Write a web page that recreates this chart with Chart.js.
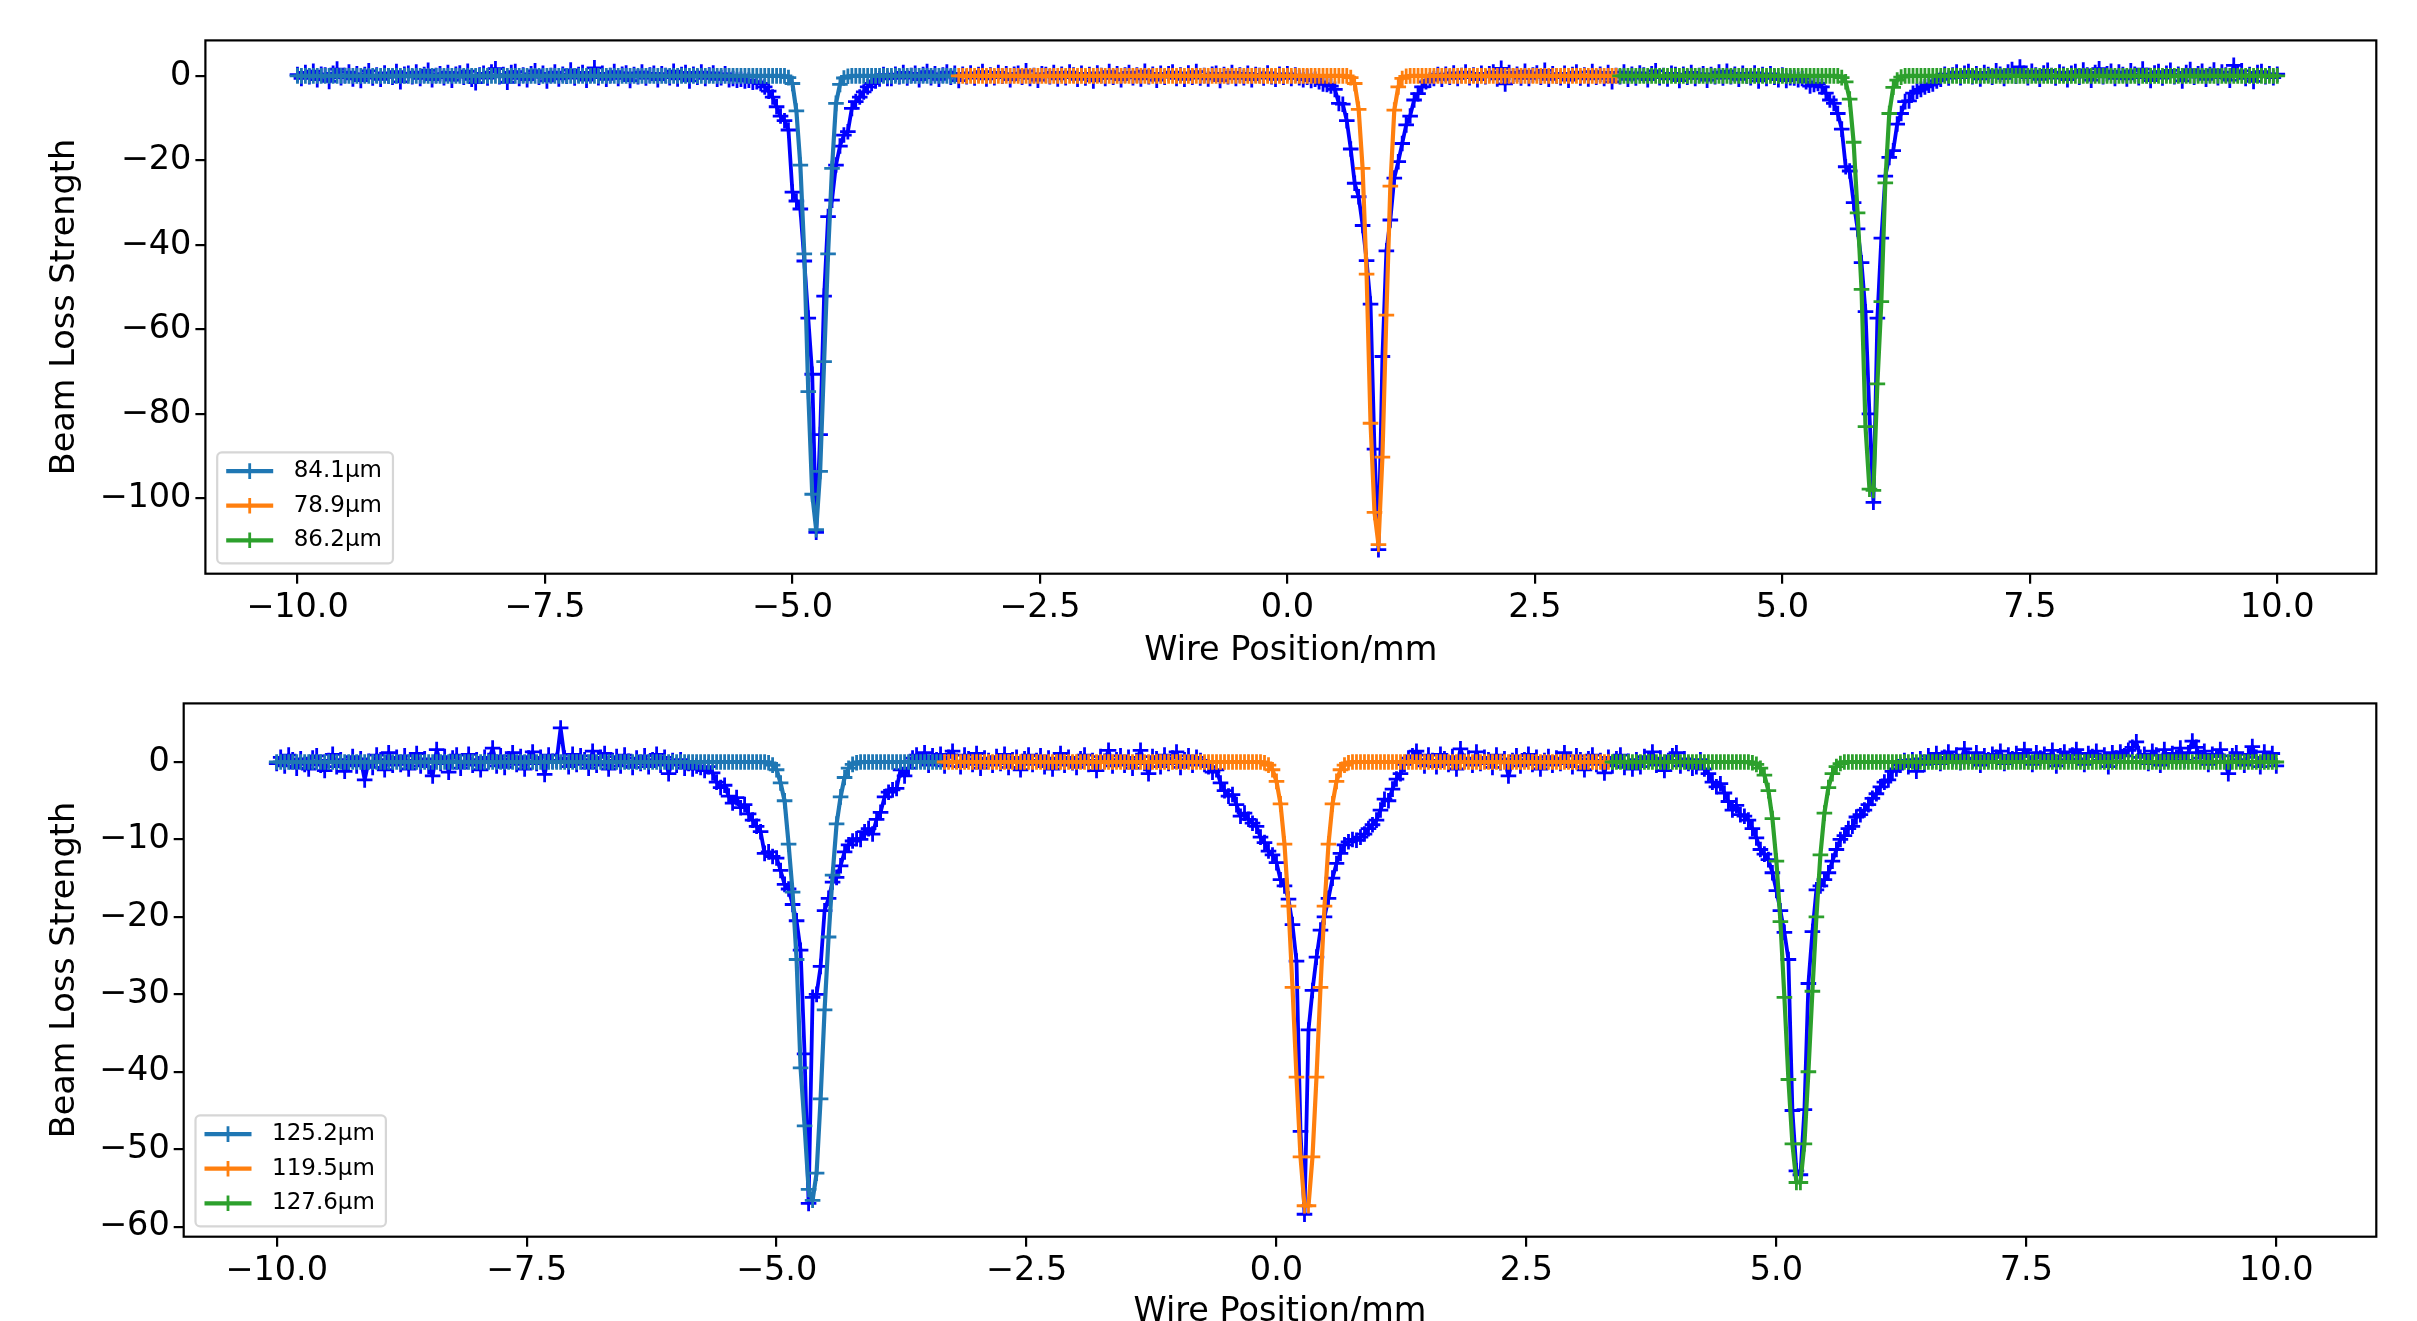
<!DOCTYPE html>
<html>
<head>
<meta charset="utf-8">
<title>Wire scan beam loss</title>
<script src="https://cdn.jsdelivr.net/npm/chart.js@4.4.1/dist/chart.umd.min.js"></script>
<style>
  html, body { margin: 0; padding: 0; background: #fff; overflow: hidden; }
  body { width: 2417px; height: 1321px; position: relative; }
  canvas { position: absolute; left: 0; }
  #scanTop { top: 0; }
  #scanBottom { top: 660px; }
</style>
</head>
<body>
<canvas id="scanTop" width="2417" height="700"></canvas>
<canvas id="scanBottom" width="2417" height="700"></canvas>
<script>
// wire positions of the scan (mm), shared by both scans and all fits
const wirePos = [
  -10.00,-9.96,-9.92,-9.88,-9.84,-9.80,-9.76,-9.72,-9.68,-9.64,
  -9.60,-9.56,-9.52,-9.48,-9.44,-9.40,-9.36,-9.32,-9.28,-9.24,
  -9.20,-9.16,-9.12,-9.08,-9.04,-9.00,-8.96,-8.92,-8.88,-8.84,
  -8.80,-8.76,-8.72,-8.68,-8.64,-8.60,-8.56,-8.52,-8.48,-8.44,
  -8.40,-8.36,-8.32,-8.28,-8.24,-8.20,-8.16,-8.12,-8.08,-8.04,
  -8.00,-7.96,-7.92,-7.88,-7.84,-7.80,-7.76,-7.72,-7.68,-7.64,
  -7.60,-7.56,-7.52,-7.48,-7.44,-7.40,-7.36,-7.32,-7.28,-7.24,
  -7.20,-7.16,-7.12,-7.08,-7.04,-7.00,-6.96,-6.92,-6.88,-6.84,
  -6.80,-6.76,-6.72,-6.68,-6.64,-6.60,-6.56,-6.52,-6.48,-6.44,
  -6.40,-6.36,-6.32,-6.28,-6.24,-6.20,-6.16,-6.12,-6.08,-6.04,
  -6.00,-5.96,-5.92,-5.88,-5.84,-5.80,-5.76,-5.72,-5.68,-5.64,
  -5.60,-5.56,-5.52,-5.48,-5.44,-5.40,-5.36,-5.32,-5.28,-5.24,
  -5.20,-5.16,-5.12,-5.08,-5.04,-5.00,-4.96,-4.92,-4.88,-4.84,
  -4.80,-4.76,-4.72,-4.68,-4.64,-4.60,-4.56,-4.52,-4.48,-4.44,
  -4.40,-4.36,-4.32,-4.28,-4.24,-4.20,-4.16,-4.12,-4.08,-4.04,
  -4.00,-3.96,-3.92,-3.88,-3.84,-3.80,-3.76,-3.72,-3.68,-3.64,
  -3.60,-3.56,-3.52,-3.48,-3.44,-3.40,-3.36,-3.32,-3.28,-3.24,
  -3.20,-3.16,-3.12,-3.08,-3.04,-3.00,-2.96,-2.92,-2.88,-2.84,
  -2.80,-2.76,-2.72,-2.68,-2.64,-2.60,-2.56,-2.52,-2.48,-2.44,
  -2.40,-2.36,-2.32,-2.28,-2.24,-2.20,-2.16,-2.12,-2.08,-2.04,
  -2.00,-1.96,-1.92,-1.88,-1.84,-1.80,-1.76,-1.72,-1.68,-1.64,
  -1.60,-1.56,-1.52,-1.48,-1.44,-1.40,-1.36,-1.32,-1.28,-1.24,
  -1.20,-1.16,-1.12,-1.08,-1.04,-1.00,-0.96,-0.92,-0.88,-0.84,
  -0.80,-0.76,-0.72,-0.68,-0.64,-0.60,-0.56,-0.52,-0.48,-0.44,
  -0.40,-0.36,-0.32,-0.28,-0.24,-0.20,-0.16,-0.12,-0.08,-0.04,
  0.00,0.04,0.08,0.12,0.16,0.20,0.24,0.28,0.32,0.36,
  0.40,0.44,0.48,0.52,0.56,0.60,0.64,0.68,0.72,0.76,
  0.80,0.84,0.88,0.92,0.96,1.00,1.04,1.08,1.12,1.16,
  1.20,1.24,1.28,1.32,1.36,1.40,1.44,1.48,1.52,1.56,
  1.60,1.64,1.68,1.72,1.76,1.80,1.84,1.88,1.92,1.96,
  2.00,2.04,2.08,2.12,2.16,2.20,2.24,2.28,2.32,2.36,
  2.40,2.44,2.48,2.52,2.56,2.60,2.64,2.68,2.72,2.76,
  2.80,2.84,2.88,2.92,2.96,3.00,3.04,3.08,3.12,3.16,
  3.20,3.24,3.28,3.32,3.36,3.40,3.44,3.48,3.52,3.56,
  3.60,3.64,3.68,3.72,3.76,3.80,3.84,3.88,3.92,3.96,
  4.00,4.04,4.08,4.12,4.16,4.20,4.24,4.28,4.32,4.36,
  4.40,4.44,4.48,4.52,4.56,4.60,4.64,4.68,4.72,4.76,
  4.80,4.84,4.88,4.92,4.96,5.00,5.04,5.08,5.12,5.16,
  5.20,5.24,5.28,5.32,5.36,5.40,5.44,5.48,5.52,5.56,
  5.60,5.64,5.68,5.72,5.76,5.80,5.84,5.88,5.92,5.96,
  6.00,6.04,6.08,6.12,6.16,6.20,6.24,6.28,6.32,6.36,
  6.40,6.44,6.48,6.52,6.56,6.60,6.64,6.68,6.72,6.76,
  6.80,6.84,6.88,6.92,6.96,7.00,7.04,7.08,7.12,7.16,
  7.20,7.24,7.28,7.32,7.36,7.40,7.44,7.48,7.52,7.56,
  7.60,7.64,7.68,7.72,7.76,7.80,7.84,7.88,7.92,7.96,
  8.00,8.04,8.08,8.12,8.16,8.20,8.24,8.28,8.32,8.36,
  8.40,8.44,8.48,8.52,8.56,8.60,8.64,8.68,8.72,8.76,
  8.80,8.84,8.88,8.92,8.96,9.00,9.04,9.08,9.12,9.16,
  9.20,9.24,9.28,9.32,9.36,9.40,9.44,9.48,9.52,9.56,
  9.60,9.64,9.68,9.72,9.76,9.80,9.84,9.88,9.92,9.96,
  10.00
];

// upper scan: measured beam loss
const topMeasured = [
  0.3,-0.6,0.8,-0.2,1.1,-0.9,0.4,0.2,-1.3,0.6,
  1.6,-0.4,0.1,0.9,-0.7,0.5,-1.1,0.3,1.2,-0.5,
  0.2,-0.8,0.7,0.0,-0.3,1.0,-1.4,0.4,0.6,-0.2,
  0.9,-0.6,0.3,1.3,-0.9,0.1,0.5,-0.4,0.8,-1.0,
  0.4,0.7,-0.3,1.1,-0.8,-1.6,0.2,0.6,-0.5,0.9,
  1.7,-0.2,0.3,-1.5,0.8,1.0,-0.6,0.2,-0.9,0.5,
  1.2,-0.3,0.6,-1.2,0.1,0.9,-0.7,0.4,-0.1,1.4,
  -0.5,0.3,0.8,-1.0,0.2,1.9,-0.4,0.6,-0.8,0.1,
  1.0,-0.6,0.4,0.7,-1.1,0.3,-0.2,0.9,-0.5,0.2,
  0.6,-0.9,0.5,0.1,-0.4,1.1,-0.7,0.3,0.8,-1.2,
  0.4,-0.3,0.9,-0.6,0.2,0.7,-0.8,-0.4,0.5,-0.9,
  -0.6,-1.0,-0.8,-1.2,-1.0,-1.5,-1.4,-1.8,-2.6,-3.6,
  -5.0,-7.3,-9.5,-10.6,-12.8,-27.5,-29.6,-31.5,-43.8,-57.3,
  -70.6,-108.0,-84.9,-52.1,-33.3,-29.4,-21.1,-16.6,-14.0,-13.2,
  -7.7,-6.1,-5.0,-3.8,-2.6,-1.8,-1.2,-0.7,0.3,-0.6,
  -0.6,0.4,-0.2,0.8,-0.5,0.1,0.6,-0.9,0.3,1.0,
  -0.4,0.5,-0.8,0.2,0.9,-0.3,0.6,-1.1,0.4,-0.2,
  0.7,-0.5,0.3,1.0,-0.7,0.2,-0.4,0.8,-0.1,0.5,
  -0.9,0.4,0.6,-0.3,1.2,-0.6,0.1,-1.0,0.5,0.3,
  -0.2,0.8,-0.7,0.4,-0.4,0.9,0.2,-0.8,0.6,-0.5,
  0.3,-1.2,0.7,0.1,-0.6,1.0,-0.3,0.5,-0.9,0.2,
  0.8,-0.4,0.2,-0.7,1.1,-0.2,0.4,-1.0,0.6,-0.3,
  0.5,0.9,-0.6,0.2,-0.8,0.7,-0.3,1.0,-0.5,0.1,
  -0.7,0.4,0.6,-1.1,0.3,-0.2,0.8,-0.6,0.2,-0.4,
  0.6,-0.9,0.3,0.1,-0.5,0.7,-0.2,-0.8,0.4,-0.3,
  0.5,-0.6,0.2,-0.4,-0.9,-0.3,-1.1,-0.8,-1.4,-1.9,
  -2.0,-2.4,-3.2,-6.5,-6.7,-10.6,-17.3,-25.4,-28.6,-35.4,
  -43.7,-54.0,-88.3,-112.1,-66.4,-41.4,-34.1,-24.2,-20.3,-16.0,
  -11.6,-9.5,-5.7,-4.2,-2.6,-1.4,-1.0,-0.6,0.3,-0.8,
  0.4,-0.3,0.7,-0.6,0.1,0.9,-0.4,0.2,-0.9,0.6,
  -0.2,0.5,0.9,-0.7,1.8,-1.9,0.8,-0.1,0.4,-0.5,
  1.1,-0.6,0.2,0.7,-0.3,1.3,-0.8,0.5,0.0,-0.4,
  0.6,-1.0,0.3,0.9,-0.5,0.2,-0.7,1.0,-0.3,0.4,
  -0.6,0.8,-1.4,0.1,-0.2,0.9,-0.8,0.4,-0.5,0.7,
  0.2,-0.9,0.5,1.2,-0.4,0.1,-0.7,0.6,0.3,-1.1,
  0.4,-0.3,0.8,-0.6,0.1,0.5,-1.0,0.3,-0.2,0.9,
  -0.5,1.1,-0.2,0.4,-0.8,0.6,0.0,-0.4,0.7,-1.2,
  0.3,-0.6,0.5,-0.3,-0.9,0.2,-1.1,-0.4,-0.5,-0.9,
  -0.6,-1.4,-2.4,-2.0,-1.8,-2.6,-4.1,-5.7,-6.5,-8.9,
  -12.6,-21.5,-22.5,-30.0,-36.2,-44.2,-55.8,-80.0,-100.9,-57.3,
  -38.4,-23.7,-19.3,-17.7,-11.4,-8.9,-6.1,-5.9,-4.1,-3.6,
  -3.2,-2.6,-2.2,-1.9,-1.2,-0.8,0.4,-0.5,0.2,0.9,
  -0.4,0.6,1.0,-0.2,0.5,-0.7,0.8,0.3,-0.3,1.2,
  0.4,-0.6,0.9,1.5,-0.1,2.1,0.6,-0.4,1.1,0.2,
  -0.8,0.7,1.3,0.1,-0.5,0.9,0.4,-0.9,0.6,1.0,
  -0.3,1.4,0.2,-1.0,0.8,1.7,-0.2,0.5,1.1,-0.6,
  0.9,0.3,-0.7,1.2,0.4,-0.4,1.6,0.1,-1.1,0.7,
  1.0,-0.5,0.6,1.3,-0.2,0.4,-1.2,0.8,1.5,-0.3,
  0.5,1.1,-0.8,0.3,1.4,-0.4,0.9,0.2,-1.0,2.5,
  0.6,1.2,-0.6,0.3,-1.3,0.8,1.0,-0.2,0.5,-0.4,
  0.4
];

// upper scan: gaussian fits, one per wire (positions 0-166, 167-333, 334-500)
const topFitLeft = [
  0,0,0,0,0,0,0,0,0,0, 0,0,0,0,0,0,0,0,0,0,
  0,0,0,0,0,0,0,0,0,0, 0,0,0,0,0,0,0,0,0,0,
  0,0,0,0,0,0,0,0,0,0, 0,0,0,0,0,0,0,0,0,0,
  0,0,0,0,0,0,0,0,0,0, 0,0,0,0,0,0,0,0,0,0,
  0,0,0,0,0,0,0,0,0,0, 0,0,0,0,0,0,0,0,0,0,
  0,0,0,0,0,0,0,0,0,0, 0,0,0,0,0,0,0,0,0,0,
  0,0,0,0,-0.4,-1.8,-8.3,-21.1,-42.1,-74.7,
  -99.0,-107.4,-93.6,-67.6,-42.1,-21.9,-6.5,-2.0,-0.5,-0.1,
  0,0,0,0,0,0,0,0,0,0, 0,0,0,0,0,0,0,0,0,0,
  0,0,0,0,0,0,0
];
const topFitMid = [
  0,0,0,
  0,0,0,0,0,0,0,0,0,0, 0,0,0,0,0,0,0,0,0,0,
  0,0,0,0,0,0,0,0,0,0, 0,0,0,0,0,0,0,0,0,0,
  0,0,0,0,0,0,0,0,0,0, 0,0,0,0,0,0,0,0,0,0,
  0,0,0,0,0,0,0,0,0,0, 0,0,0,0,0,0,0,0,0,0,
  0,0,0,0,0,0,0,0,0,0,
  0,0,0,0,0,0,-0.4,-1.8,-7.9,-21.9,
  -46.9,-82.2,-103.3,-110.9,-90.2,-56.6,-26.1,-8.1,-2.6,-0.6,
  -0.1,0,0,0,0,0,0,0,0,0,
  0,0,0,0,0,0,0,0,0,0, 0,0,0,0,0,0,0,0,0,0,
  0,0,0,0,0,0,0,0,0,0, 0,0,0,0,0,0,0,0,0,0,
  0,0,0,0
];
const topFitRight = [
  0,0,0,0,0,0,
  0,0,0,0,0,0,0,0,0,0, 0,0,0,0,0,0,0,0,0,0,
  0,0,0,0,0,0,0,0,0,0, 0,0,0,0,0,0,0,0,0,0,
  0,0,0,0,0,0,0,0,0,0,
  -0.4,-1.4,-5.5,-15.7,-32.4,-50.5,-83.0,-97.8,-98.1,-72.9,
  -53.4,-25.3,-8.9,-2.7,-1.0,-0.3,0,0,0,0,
  0,0,0,0,0,0,0,0,0,0, 0,0,0,0,0,0,0,0,0,0,
  0,0,0,0,0,0,0,0,0,0, 0,0,0,0,0,0,0,0,0,0,
  0,0,0,0,0,0,0,0,0,0, 0,0,0,0,0,0,0,0,0,0,
  0,0,0,0,0,0,0,0,0,0, 0,0,0,0,0,0,0,0,0,0,
  0,0,0,0,0,0,0,0,0,0,
  0
];

// lower scan: measured beam loss
const bottomMeasured = [
  -0.2,0.6,-0.5,0.9,0.3,-0.8,0.4,-0.3,-0.9,0.5,
  0.8,-0.4,-1.1,0.2,1.0,-0.6,0.3,-1.2,-0.2,0.7,
  -0.5,0.4,-2.3,0.1,-0.7,0.9,0.3,-1.0,1.2,-0.4,
  0.6,-0.3,0.8,-0.9,0.2,1.1,-0.5,0.4,-0.6,-1.8,
  1.6,-0.2,0.7,-1.3,0.5,0.9,-0.8,0.1,1.0,-0.4,
  0.3,-1.0,0.6,0.2,1.8,-0.5,0.8,-0.7,0.4,1.2,
  -0.3,0.7,-0.9,0.5,1.3,-0.2,0.6,-1.6,0.9,0.1,
  0.2,4.4,0.5,-0.6,1.0,-0.3,0.8,0.3,-0.8,1.4,
  -0.4,0.6,1.1,-0.9,0.2,0.7,-0.5,0.9,0.1,-0.7,
  0.5,-0.2,0.8,-0.6,0.3,1.0,-0.4,0.6,-1.5,0.2,
  -0.4,0.3,-0.8,-0.2,-0.9,-0.5,-0.7,-1.1,-0.6,-1.4,
  -2.6,-3.3,-3.0,-4.4,-5.3,-4.6,-5.9,-5.5,-6.7,-7.5,
  -8.3,-9.0,-11.8,-11.6,-12.2,-12.4,-14.0,-15.8,-16.4,-18.4,
  -20.5,-24.3,-37.7,-57.0,-30.4,-30.0,-26.4,-19.2,-17.6,-15.5,
  -14.9,-13.4,-11.6,-10.7,-10.2,-9.9,-10.0,-9.0,-8.6,-9.3,
  -7.4,-6.5,-4.5,-3.9,-3.6,-3.4,-1.0,-1.8,-0.8,0.5,
  0.9,0.2,1.2,-0.4,0.8,0.3,1.0,-0.5,0.6,1.4,
  0.1,-0.6,0.9,0.4,-0.3,1.1,-0.8,0.5,0.2,-0.4,
  0.7,-0.2,1.0,-0.7,0.3,0.6,-1.0,0.4,0.9,-0.3,
  0.2,0.8,-0.6,0.5,-0.9,0.3,1.1,-0.4,0.6,-0.1,
  -0.7,0.4,0.9,-0.3,0.2,-1.1,0.7,0.1,1.5,-0.5,
  0.3,0.8,-0.4,0.6,-0.8,0.2,1.5,-0.2,-1.5,0.7,
  0.4,-0.6,0.9,-0.2,0.5,1.3,-0.7,0.3,0.8,-0.4,
  0.6,0.2,-0.3,-0.6,-1.3,-1.0,-2.7,-3.7,-4.4,-4.2,
  -5.5,-7.0,-6.6,-7.4,-7.9,-8.3,-9.7,-10.4,-11.5,-12.0,
  -13.0,-15.2,-16.0,-17.7,-21.0,-25.7,-47.7,-58.4,-34.6,-29.5,
  -25.2,-21.7,-20.0,-17.6,-15.0,-13.1,-11.8,-10.7,-10.3,-10.0,
  -10.1,-9.7,-9.3,-8.6,-8.1,-7.5,-6.2,-4.8,-5.0,-3.5,
  -2.2,-1.5,-0.3,0.5,0.8,1.4,0.3,-0.5,0.9,0.2,
  -0.6,1.0,0.4,-0.3,0.7,-0.9,1.7,0.1,0.5,-0.4,
  1.3,-0.2,0.6,0.3,-0.7,0.9,-0.1,0.4,-1.8,0.2,
  0.8,-0.5,0.3,1.0,-0.3,0.6,-0.9,0.2,0.7,-0.4,
  0.5,-0.2,1.2,0.1,-0.6,0.8,0.3,-1.0,0.4,0.9,
  -0.3,0.2,-1.4,0.6,-0.5,0.4,0.9,-0.7,0.1,-0.9,
  0.3,-0.6,0.7,0.2,1.3,-0.4,0.5,-1.1,0.2,0.8,
  1.2,-0.5,0.4,-0.2,-0.8,-0.6,0.3,-0.9,-1.5,-2.6,
  -3.2,-2.8,-4.0,-5.1,-6.2,-5.6,-6.8,-7.0,-7.5,-8.6,
  -9.8,-11.3,-11.9,-12.6,-14.3,-16.6,-19.2,-22.0,-25.5,-45.0,
  -52.8,-53.3,-44.9,-28.6,-21.9,-16.5,-16.0,-15.2,-14.3,-12.8,
  -11.3,-10.0,-9.5,-8.6,-8.3,-7.1,-6.8,-6.2,-5.5,-4.7,
  -4.1,-3.2,-2.6,-2.3,-1.2,-0.9,-0.4,0.2,-0.6,0.3,
  -1.2,0.4,-0.3,0.8,0.2,1.1,-0.2,0.6,1.3,0.4,
  0.9,-0.1,1.7,0.5,0.2,1.2,-0.4,0.8,0.3,1.0,
  0.6,1.4,-0.2,0.9,0.4,1.1,0.1,1.6,0.7,-0.3,
  1.2,0.5,1.0,0.2,1.5,-0.5,0.8,1.3,0.3,0.9,
  1.6,0.4,-0.3,1.1,0.7,1.4,0.2,0.9,-0.6,1.2,
  0.5,1.3,0.8,1.5,1.9,2.6,0.6,1.0,-0.2,1.4,
  0.9,-0.4,1.6,0.3,1.1,0.6,1.8,0.2,1.2,2.7,
  1.9,0.5,1.4,-0.3,1.0,0.7,1.6,0.1,-1.5,0.8,
  1.2,0.3,-0.4,1.0,2.0,0.6,-0.6,1.3,0.4,1.1,
  -0.5
];

// lower scan: gaussian fits
const bottomFitLeft = [
  0,0,0,0,0,0,0,0,0,0, 0,0,0,0,0,0,0,0,0,0,
  0,0,0,0,0,0,0,0,0,0, 0,0,0,0,0,0,0,0,0,0,
  0,0,0,0,0,0,0,0,0,0, 0,0,0,0,0,0,0,0,0,0,
  0,0,0,0,0,0,0,0,0,0, 0,0,0,0,0,0,0,0,0,0,
  0,0,0,0,0,0,0,0,0,0, 0,0,0,0,0,0,0,0,0,0,
  0,0,0,0,0,0,0,0,0,0, 0,0,0,0,0,0,0,0,0,0,
  0,0,0,-0.1,-0.4,-1.0,-2.7,-5.0,-10.6,-16.8,
  -25.5,-39.5,-47.0,-55.2,-56.6,-53.1,-43.5,-32.0,-22.6,-14.6,
  -8.0,-4.5,-2.0,-0.8,-0.3,-0.1,0,0,0,0,
  0,0,0,0,0,0,0,0,0,0,
  0,0,0,0,0,0,0
];
const bottomFitMid = [
  0,0,0,
  0,0,0,0,0,0,0,0,0,0, 0,0,0,0,0,0,0,0,0,0,
  0,0,0,0,0,0,0,0,0,0, 0,0,0,0,0,0,0,0,0,0,
  0,0,0,0,0,0,0,0,0,0, 0,0,0,0,0,0,0,0,0,0,
  0,0,0,0,0,0,0,0,0,0,
  0,0,0,0,0,0,0,-0.1,-0.4,-1.0,
  -2.5,-5.4,-10.6,-18.6,-29.1,-40.7,-51.0,-57.3,-57.3,-51.0,
  -40.7,-29.1,-18.6,-10.6,-5.4,-2.5,-1.0,-0.4,-0.1,0,
  0,0,0,0,0,0,0,0,0,0, 0,0,0,0,0,0,0,0,0,0,
  0,0,0,0,0,0,0,0,0,0, 0,0,0,0,0,0,0,0,0,0,
  0,0,0,0,0,0,0,0,0,0, 0,0,0,0,0,0,0,0,0,0,
  0,0,0,0
];
const bottomFitRight = [
  0,0,0,0,0,0,
  0,0,0,0,0,0,0,0,0,0, 0,0,0,0,0,0,0,0,0,0,
  0,0,0,0,0,0,0,0,0,-0.1,
  -0.3,-0.8,-1.7,-3.7,-7.3,-12.8,-20.6,-30.4,-41.0,-49.3,
  -54.3,-54.3,-49.3,-40.0,-29.6,-20.0,-12.0,-6.6,-3.3,-1.5,
  -0.6,-0.2,0,0,0,0,0,0,0,0,
  0,0,0,0,0,0,0,0,0,0, 0,0,0,0,0,0,0,0,0,0,
  0,0,0,0,0,0,0,0,0,0, 0,0,0,0,0,0,0,0,0,0,
  0,0,0,0,0,0,0,0,0,0, 0,0,0,0,0,0,0,0,0,0,
  0,0,0,0,0,0,0,0,0,0, 0,0,0,0,0,0,0,0,0,0,
  0,0,0,0,0,0,0,0,0,0, 0,0,0,0,0,0,0,0,0,0,
  0
];

// fitted beam widths shown in the legends
const topWidths = ['84.1\u03bcm', '78.9\u03bcm', '86.2\u03bcm'];
const bottomWidths = ['125.2\u03bcm', '119.5\u03bcm', '127.6\u03bcm'];

// tick values
const xTicks = [-10, -7.5, -5, -2.5, 0, 2.5, 5, 7.5, 10];
const topYTicks = [0, -20, -40, -60, -80, -100];
const bottomYTicks = [0, -10, -20, -30, -40, -50, -60];

const fitColors = ['#1f77b4', '#ff7f0e', '#2ca02c'];
const dataColor = '#0000ff';

Chart.defaults.font.family = '"DejaVu Sans", sans-serif';
Chart.defaults.color = '#000';

function toPoints(xs, ys) {
  return ys.map((y, i) => ({ x: xs[i], y: y }));
}

function fmtTick(v, digits) {
  return Number(v).toFixed(digits).replace('-', '\u2212');
}

function traceSet(label, xs, ys, color, width, order) {
  return {
    label: label,
    data: toPoints(xs, ys),
    borderColor: color,
    backgroundColor: color,
    borderWidth: width,
    borderJoinStyle: 'round',
    pointStyle: 'cross',
    pointRadius: 7.8,
    pointHoverRadius: 7.8,
    pointBorderWidth: 2.8,
    pointBorderColor: color,
    pointBackgroundColor: color,
    tension: 0,
    fill: false,
    order: order
  };
}

// black frame around the plot area (matplotlib spines)
const frameBox = {
  id: 'frameBox',
  afterDatasetsDraw(chart) {
    const { ctx, chartArea: a } = chart;
    ctx.save();
    ctx.strokeStyle = '#000';
    ctx.lineWidth = 2.2;
    ctx.strokeRect(a.left, a.top, a.right - a.left, a.bottom - a.top);
    ctx.restore();
  }
};

// legend box in the lower left corner of the plot area
function cornerLegend(labels) {
  return {
    id: 'cornerLegend',
    afterDraw(chart) {
      const { ctx, chartArea: a } = chart;
      ctx.save();
      ctx.font = '23px "DejaVu Sans"';
      let textW = 0;
      labels.forEach(t => { textW = Math.max(textW, ctx.measureText(t).width); });
      const rowTop = 18.7, rowGap = 34.6, rowBottom = 23;
      const w = 76.5 + textW + 11;
      const h = rowTop + rowGap * (labels.length - 1) + rowBottom;
      const x0 = a.left + 11.8;
      const y0 = a.bottom - 10.4 - h;

      ctx.beginPath();
      if (ctx.roundRect) ctx.roundRect(x0, y0, w, h, 4.6);
      else ctx.rect(x0, y0, w, h);
      ctx.fillStyle = 'rgba(255,255,255,0.8)';
      ctx.fill();
      ctx.lineWidth = 2.2;
      ctx.strokeStyle = '#d6d6d6';
      ctx.stroke();

      labels.forEach((t, k) => {
        const y = y0 + rowTop + k * rowGap;
        const color = fitColors[k];
        ctx.strokeStyle = color;
        ctx.lineWidth = 4.2;
        ctx.beginPath();
        ctx.moveTo(x0 + 9, y);
        ctx.lineTo(x0 + 56, y);
        ctx.stroke();
        const mx = x0 + 32.5;
        ctx.lineWidth = 2.8;
        ctx.beginPath();
        ctx.moveTo(mx, y - 7.8);
        ctx.lineTo(mx, y + 7.8);
        ctx.moveTo(mx - 7.8, y);
        ctx.lineTo(mx + 7.8, y);
        ctx.stroke();
        ctx.fillStyle = '#000';
        ctx.textAlign = 'left';
        ctx.textBaseline = 'middle';
        ctx.fillText(t, x0 + 76.5, y);
      });
      ctx.restore();
    }
  };
}

function renderScan(canvasId, measured, fits, widths, yTicks, box) {
  const ctx = document.getElementById(canvasId).getContext('2d');
  const segLeft = wirePos.slice(0, 167);
  const segMid = wirePos.slice(167, 334);
  const segRight = wirePos.slice(334, 501);

  new Chart(ctx, {
    type: 'line',
    data: {
      datasets: [
        traceSet('measured', wirePos, measured, dataColor, 3.8, 4),
        traceSet(widths[0], segLeft, fits[0], fitColors[0], 4.2, 3),
        traceSet(widths[1], segMid, fits[1], fitColors[1], 4.2, 2),
        traceSet(widths[2], segRight, fits[2], fitColors[2], 4.2, 1)
      ]
    },
    options: {
      responsive: false,
      animation: false,
      devicePixelRatio: 1,
      events: [],
      layout: {
        padding: { left: 0, right: 40.7, top: box.top, bottom: 0 }
      },
      plugins: {
        legend: { display: false },
        tooltip: { enabled: false }
      },
      scales: {
        x: {
          type: 'linear',
          min: -10.93,
          max: 11.0,
          afterBuildTicks: s => { s.ticks = xTicks.map(v => ({ value: v })); },
          afterFit: s => { s.height = box.xHeight; },
          ticks: {
            callback: v => fmtTick(v, 1),
            font: { size: 33.5 },
            color: '#000',
            padding: 4.5,
            maxRotation: 0,
            autoSkip: false
          },
          grid: { drawOnChartArea: false, color: '#000', lineWidth: 2.2, tickLength: 10 },
          border: { display: false },
          title: {
            display: true,
            text: 'Wire Position/mm',
            font: { size: 33.5 },
            color: '#000',
            padding: { top: 0, bottom: box.xTitlePad }
          }
        },
        y: {
          type: 'linear',
          min: box.yMin,
          max: box.yMax,
          afterBuildTicks: s => { s.ticks = yTicks.map(v => ({ value: v })); },
          afterFit: s => { s.width = box.yWidth; },
          ticks: {
            callback: v => fmtTick(v, 0),
            font: { size: 33.5 },
            color: '#000',
            padding: 4
          },
          grid: { drawOnChartArea: false, color: '#000', lineWidth: 2.2, tickLength: 10 },
          border: { display: false },
          title: {
            display: true,
            text: 'Beam Loss Strength',
            font: { size: 33.5 },
            color: '#000',
            padding: { top: 45, bottom: 0 }
          }
        }
      }
    },
    plugins: [frameBox, cornerLegend(widths)]
  });
}

renderScan('scanTop', topMeasured, [topFitLeft, topFitMid, topFitRight], topWidths, topYTicks,
  { top: 40.4, xHeight: 126.3, xTitlePad: 28.2, yWidth: 205.4, yMin: -117.8, yMax: 8.4 });

renderScan('scanBottom', bottomMeasured, [bottomFitLeft, bottomFitMid, bottomFitRight], bottomWidths, bottomYTicks,
  { top: 43.4, xHeight: 123.3, xTitlePad: 28, yWidth: 183.7, yMin: -61.3, yMax: 7.57 });
</script>
</body>
</html>
